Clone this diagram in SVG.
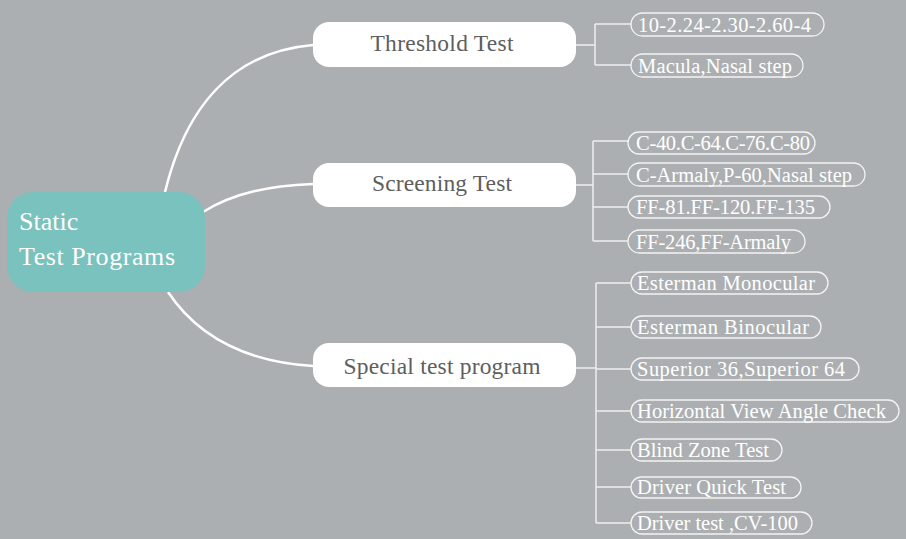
<svg xmlns="http://www.w3.org/2000/svg" width="906" height="539" viewBox="0 0 906 539">
<style>
.bg{fill:#acafb1}
.root{fill:#7ac2be}
.main{fill:#ffffff}
.leaf{fill:none;stroke:#f4f4f4;stroke-width:1.3}
.curve{fill:none;stroke:#ffffff;stroke-width:2.5}
.br{fill:none;stroke:#eeeeee;stroke-width:1.5}
.rt{font-family:"Liberation Serif","DejaVu Serif",serif;font-size:26px;fill:#ffffff}
.mt{font-family:"Liberation Serif","DejaVu Serif",serif;font-size:23.5px;fill:#5e5e5e;text-anchor:middle}
.lt{font-family:"Liberation Serif","DejaVu Serif",serif;font-size:20.5px;fill:#ffffff}
</style>
<rect class="bg" x="0" y="0" width="906" height="539"/>
<g id="connectors">
<path class="curve" d="M165,192 C185,110 230,52 313,45"/>
<path class="curve" d="M203,212 C235,192 270,186 313,184"/>
<path class="curve" d="M168,292 C200,340 250,362 313,366"/>
<path class="br" d="M576,45 H595 M595,24 V65 M595,24 H631 M595,65 H631"/>
<path class="br" d="M576,185 H593 M593,141 V241 M593,141 H628 M593,174 H628 M593,207 H628 M593,241 H628"/>
<path class="br" d="M576,368 H596 M596,283 V523 M596,283 H631 M596,327 H631 M596,369 H631 M596,411 H631 M596,450 H631 M596,487 H631 M596,523 H631"/>
</g>
<g id="root">
<rect class="root" x="7" y="192" width="198" height="100" rx="26"/>
<text class="rt" x="19" y="230">Static</text>
<text class="rt" x="19" y="265" textLength="156">Test Programs</text>
</g>
<g id="threshold">
<rect class="main" x="313" y="22" width="263" height="45" rx="16"/>
<text class="mt" x="442" y="51" textLength="143">Threshold Test</text>
</g>
<g id="screening">
<rect class="main" x="313" y="163" width="263" height="44" rx="16"/>
<text class="mt" x="442" y="191" textLength="140">Screening Test</text>
</g>
<g id="special">
<rect class="main" x="313" y="343" width="263" height="44" rx="16"/>
<text class="mt" x="442" y="374" textLength="197">Special test program</text>
</g>
<g id="t1"><rect class="leaf" x="631" y="13" width="193" height="23" rx="11.5"/><text class="lt" x="638" y="32" textLength="173">10-2.24-2.30-2.60-4</text></g>
<g id="t2"><rect class="leaf" x="631" y="54" width="172" height="23" rx="11.5"/><text class="lt" x="638" y="73" textLength="154">Macula,Nasal step</text></g>
<g id="s1"><rect class="leaf" x="628" y="132" width="187" height="22" rx="11"/><text class="lt" x="636" y="150" textLength="174">C-40.C-64.C-76.C-80</text></g>
<g id="s2"><rect class="leaf" x="628" y="163" width="237" height="23" rx="11.5"/><text class="lt" x="636" y="182" textLength="216">C-Armaly,P-60,Nasal step</text></g>
<g id="s3"><rect class="leaf" x="628" y="196" width="202" height="22" rx="11"/><text class="lt" x="636" y="214" textLength="179">FF-81.FF-120.FF-135</text></g>
<g id="s4"><rect class="leaf" x="628" y="230" width="177" height="23" rx="11.5"/><text class="lt" x="636" y="249" textLength="155">FF-246,FF-Armaly</text></g>
<g id="p1"><rect class="leaf" x="631" y="272" width="197" height="22" rx="11"/><text class="lt" x="637" y="290" textLength="178">Esterman Monocular</text></g>
<g id="p2"><rect class="leaf" x="631" y="316" width="190" height="22" rx="11"/><text class="lt" x="637" y="334" textLength="172">Esterman Binocular</text></g>
<g id="p3"><rect class="leaf" x="631" y="358" width="228" height="22" rx="11"/><text class="lt" x="637" y="376" textLength="208">Superior 36,Superior 64</text></g>
<g id="p4"><rect class="leaf" x="631" y="400" width="268" height="22" rx="11"/><text class="lt" x="637" y="418" textLength="249">Horizontal View Angle Check</text></g>
<g id="p5"><rect class="leaf" x="631" y="439" width="151" height="22" rx="11"/><text class="lt" x="637" y="457" textLength="132">Blind Zone Test</text></g>
<g id="p6"><rect class="leaf" x="631" y="477" width="170" height="21" rx="10.5"/><text class="lt" x="637" y="494" textLength="149">Driver Quick Test</text></g>
<g id="p7"><rect class="leaf" x="631" y="512" width="181" height="22" rx="11"/><text class="lt" x="637" y="530" textLength="161">Driver test ,CV-100</text></g>
</svg>
